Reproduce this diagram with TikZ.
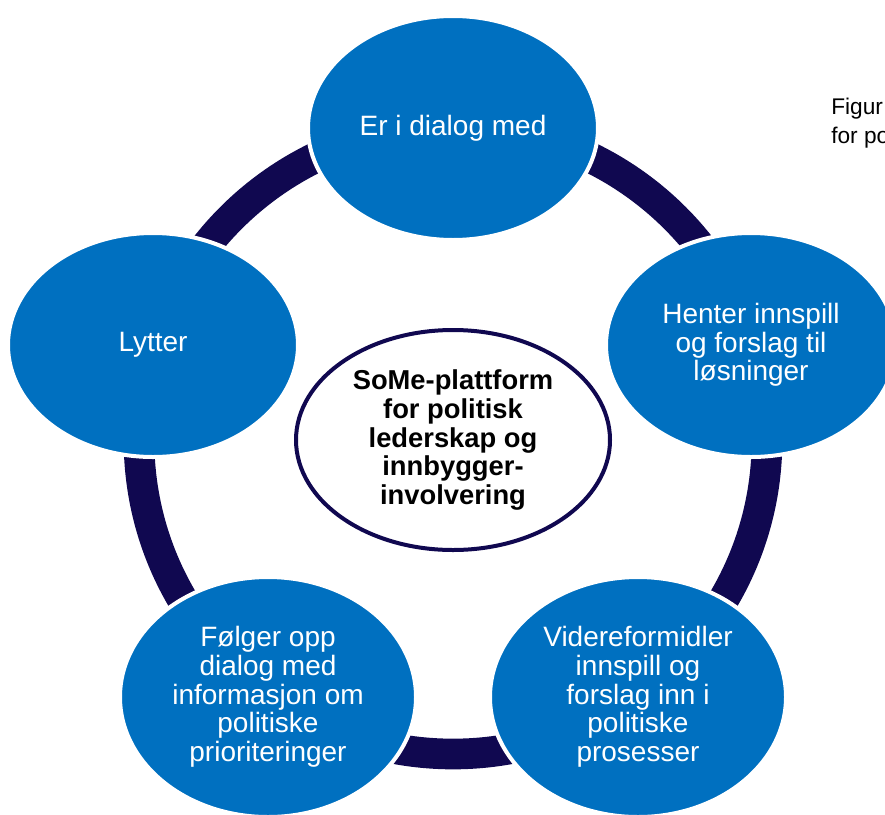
\documentclass[tikz,border=0pt]{standalone}
\usepackage{fontspec}
\setmainfont{Liberation Sans}
\usetikzlibrary{shapes.geometric}
\definecolor{ringnavy}{RGB}{16,8,80}
\definecolor{roleblue}{RGB}{0,112,192}

\begin{document}
\begin{tikzpicture}[x=0.75pt,y=0.75pt,yscale=-1,xscale=1,
  role/.style={ellipse, fill=roleblue, draw=white, line width=3pt, text=white, align=center, inner sep=0pt,
    minimum width=217.5pt, minimum height=168pt, font=\fontsize{21}{21.5}\selectfont},
  rolebig/.style={role, minimum width=222pt, minimum height=180pt},
  hubtext/.style={ellipse, fill=white, draw=ringnavy, line width=3pt, align=center, inner sep=0pt,
    minimum width=235.5pt, minimum height=165pt, font=\bfseries\fontsize{20.5}{21.6}\selectfont},
  captext/.style={anchor=base west, inner sep=0pt, font=\fontsize{17}{20}\selectfont}]
\useasboundingbox (0,0) rectangle (885,814);
\clip (0,0) rectangle (885,814);

%Ring
\coordinate (hub) at (453,440);
\draw [ringnavy, line width=23pt] (hub) circle [radius=314];

%Ellipses
\node [role] (dialog) at (453,128) {Er i dialog med};
\node [role] (henter) at (751,345) {Henter innspill\\og forslag til\\løsninger};
\node [rolebig] (videre) at (638,697) {Videreformidler\\innspill og\\forslag inn i\\politiske\\prosesser};
\node [rolebig] (folger) at (268,697) {Følger opp\\dialog med\\informasjon om\\politiske\\prioriteringer};
\node [role] (lytter) at (153,345) {Lytter};

%Centre
\node [hubtext] (plattform) at (hub) {SoMe-plattform\\for politisk\\lederskap og\\innbygger-\\involvering};

% Text Node
\node [captext] (figur) at (831,114) {Figur};
\node [captext] (forpo) at (831,143) {for po};

\end{tikzpicture}
\end{document}
